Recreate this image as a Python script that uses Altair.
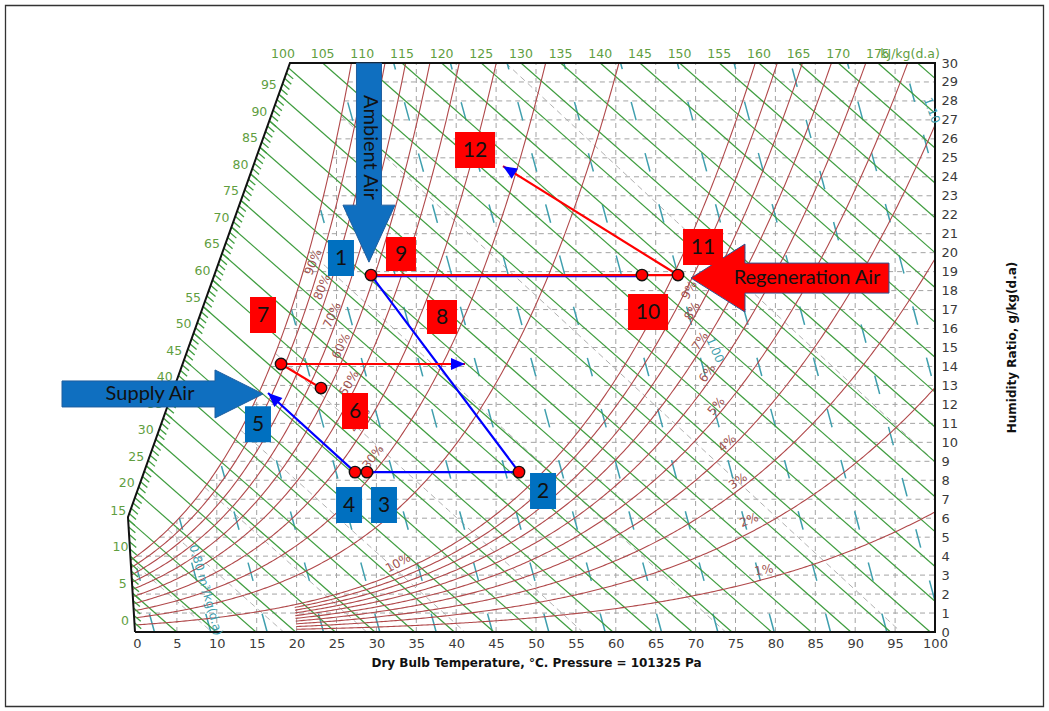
import math
import numpy as np
import pandas as pd
import altair as alt

alt.data_transformers.disable_max_rows()

# ---------------- plot frame ----------------
PLOT_W, PLOT_H = 798, 569
PX_PER_X = PLOT_W / 100.0
PX_PER_W = PLOT_H / 30.0

# ---------------- psychrometric constants ----------------
P_ATM = 101.325   # kPa
CP_DA = 1.006     # kJ/(kg K) dry air
K_SKEW = 2.72     # chart abscissa = (h - K_SKEW * w) / CP_DA

# enthalpy-scale boundary line (abscissa, g/kg)
boundary_x = [-0.25, -1.13, 19.17]
boundary_w = [0.0, 6.06, 30.0]

rh_main = [0.1, 0.2, 0.3, 0.4, 0.5, 0.6, 0.7, 0.8, 0.9, 1.0]
rh_low = [0.01, 0.02, 0.03, 0.04, 0.05, 0.06, 0.07, 0.08, 0.09]
enthalpy_values = list(range(5, 185, 5))
enthalpy_side_labels = list(range(0, 100, 5))
enthalpy_top_labels = list(range(100, 180, 5))
wet_bulb_values = [0, 5, 10, 15, 20, 25, 30, 35]
volume_values = [0.78, 0.80, 0.82, 0.84, 0.86, 0.88, 0.90, 0.92, 0.94,
                 0.96, 0.98, 1.00, 1.02, 1.04, 1.06, 1.08, 1.10]
grid_x = list(range(5, 100, 5))
grid_w = list(range(1, 30))

# relative-humidity curve labels
rh_label_text = ["90%", "80%", "70%", "60%", "50%", "40%", "30%", "20%", "10%",
                 "9%", "8%", "7%", "6%", "5%", "4%", "3%", "2%", "1%"]
rh_label_x = [22.06, 23.18, 24.44, 25.56, 26.57, 27.94, 29.57, 31.08, 32.71,
              69.17, 69.55, 70.55, 71.43, 72.56, 73.93, 75.31, 76.69, 78.57]
rh_label_w = [19.50, 18.19, 16.71, 15.08, 13.13, 11.18, 9.23, 6.69, 3.64,
              18.03, 16.92, 15.34, 13.65, 11.91, 9.96, 7.96, 5.90, 3.27]
rh_label_angle = [292, 292, 294, 296, 300, 304, 308, 315, 332,
                  298, 300, 304, 306, 310, 318, 326, 338, 350]

# specific-volume labels
vol_label_text = ["0.80 m³/kg(d.a)", "1.00", "1.10"]
vol_label_x = [8.65, 72.43, 99.6]
vol_label_w = [2.21, 14.87, 27.5]
vol_label_angle = [74, 66, 70]

# ---------------- process states ----------------
state_id = ["1", "2", "3", "4", "6", "7", "10", "11"]
state_x = [29.32, 47.87, 28.82, 27.32, 23.06, 18.05, 63.28, 67.79]
state_w = [18.82, 8.43, 8.43, 8.43, 12.86, 14.13, 18.82, 18.82]
tip_id = ["5", "8", "12"]
tip_x = [16.42, 41.10, 45.86]
tip_w = [12.60, 14.13, 24.56]

blue_paths = [["1", "2", "3", "4", "5"]]
blue_under = [["1", "10"]]
red_paths = [["1", "11"], ["11", "12"], ["7", "8"], ["7", "6"]]
arrow_heads = [("4", "5"), ("7", "8"), ("11", "12")]

# numbered tags
box_id = ["1", "2", "3", "4", "5", "9", "7", "8", "6", "12", "11", "10"]
box_x = [25.56, 50.88, 30.95, 26.57, 15.16, 33.08, 15.79, 38.22, 27.32, 42.36, 70.93, 64.04]
box_w = [19.72, 7.43, 6.69, 6.69, 10.96, 19.93, 16.71, 16.61, 11.65, 25.41, 20.30, 16.87]
box_fill = ["#0070C0"] * 5 + ["#FF0000"] * 7

# big air-stream arrows
air_text = ["Ambient Air", "Supply Air", "Regeneration Air"]
air_tip_x = [29.07, 15.79, 69.42]
air_tip_w = [19.50, 12.55, 18.66]
air_fill = ["#0F6FC0", "#0F6FC0", "#FF0000"]
air_stroke = ["#1F5E9E", "#1F5E9E", "#2F528F"]
air_shape = [
    "M0,0 L-26,-57 L-12.5,-57 L-12.5,-199 L12.5,-199 L12.5,-57 L26,-57 Z",
    "M0,0 L-48,-24 L-48,-13 L-201,-13 L-201,13 L-48,13 L-48,24 Z",
    "M0,0 L54,-34 L54,-15 L198,-15 L198,15 L54,15 L54,34 Z",
]
air_label_x = [29.20, 1.63, 83.96]
air_label_w = [25.55, 12.55, 18.66]
air_label_angle = [90, 0, 0]

# ---------------- colours ----------------
C_GRID = "#a3a3a3"
C_WB = "#b0b0b0"
C_VOL = "#3f9fae"
C_ENTH = "#3f9d3f"
C_ENTH_TXT = "#5f9e3f"
C_RH = "#b0484a"
C_RH_TXT = "#a0524f"

# ---------------- psychrometric relations ----------------
def p_sat(t):
    t = np.asarray(t, dtype=float)
    return 0.61121 * np.exp((18.678 - t / 234.5) * (t / (257.14 + t)))


def w_at(t, rh):
    pv = rh * p_sat(t)
    return 622.0 * pv / (P_ATM - pv)


def abscissa(t, w):
    return t - w * (K_SKEW - 2.501 - 0.00186 * t) / CP_DA


def h_line_x(h, w):
    return (h - K_SKEW * w) / CP_DA


def truncate(xs, ws):
    ox, ow = [xs[0]], [ws[0]]
    for i in range(1, len(xs)):
        x0, w0, x1, w1 = xs[i - 1], ws[i - 1], xs[i], ws[i]
        if w1 > 30 or x1 > 100:
            f = 1.0
            if w1 > 30:
                f = min(f, (30 - w0) / (w1 - w0))
            if x1 > 100:
                f = min(f, (100 - x0) / (x1 - x0))
            ox.append(x0 + f * (x1 - x0))
            ow.append(w0 + f * (w1 - w0))
            break
        ox.append(x1)
        ow.append(w1)
    return ox, ow


def inside(x, w):
    return 0.0 <= x <= 100.0 and 0.0 <= w <= 30.0


def edge_point(a, b):
    # a inside, b outside: bisect to the plot edge
    lo, hi = 0.0, 1.0
    for _ in range(30):
        m = 0.5 * (lo + hi)
        if inside(a[0] + m * (b[0] - a[0]), a[1] + m * (b[1] - a[1])):
            lo = m
        else:
            hi = m
    return (a[0] + lo * (b[0] - a[0]), a[1] + lo * (b[1] - a[1]))


def clip_rows(xs, ws, tag):
    pts = list(zip(xs, ws))
    runs, cur = [], []
    for i, p in enumerate(pts):
        if inside(*p):
            if not cur and i > 0:
                cur.append(edge_point(p, pts[i - 1]))
            cur.append(p)
        elif cur:
            cur.append(edge_point(pts[i - 1], p))
            runs.append(cur)
            cur = []
    if cur:
        runs.append(cur)
    out = []
    for r, run in enumerate(runs):
        out += [(float(a), float(b), f"{tag}_{r}", k) for k, (a, b) in enumerate(run)]
    return out


# saturation line in chart coordinates
t_sat = np.arange(-10, 40, 0.05)
w_sat = w_at(t_sat, 1.0)
x_sat = abscissa(t_sat, w_sat)

# boundary intersection of a constant-enthalpy line
wg = np.linspace(0, 30, 30001)
xb = np.interp(wg, boundary_w, boundary_x)


def boundary_hit(h):
    f = h_line_x(h, wg) - xb
    if f[-1] > 0:
        return None
    i = int(np.argmax(f <= 0))
    return float(xb[i]), float(wg[i])


def lines_frame(rows):
    return pd.DataFrame(rows, columns=["X", "W", "g", "o"])


# grid
rows = []
for gx in grid_x:
    top = min(30.0, float(np.interp(gx, x_sat, w_sat)))
    rows += [(gx, 0.0, f"v{gx}", 0), (gx, top, f"v{gx}", 1)]
for gw in grid_w:
    left = max(0.0, float(np.interp(gw, w_sat, x_sat)))
    rows += [(left, gw, f"h{gw}", 0), (100.0, gw, f"h{gw}", 1)]
grid_df = lines_frame(rows)

# wet-bulb lines
rows = []
for twb in wet_bulb_values:
    ws = float(w_at(twb, 1.0)) / 1000.0
    t_end = twb + (2501 - 2.326 * twb) * ws / 1.006
    tt = np.linspace(twb, t_end, 80)
    ww = ((2501 - 2.326 * twb) * ws - 1.006 * (tt - twb)) / (2501 + 1.86 * tt - 4.186 * twb) * 1000
    xx = abscissa(tt, ww)
    rows += clip_rows(list(xx), list(ww), f"wb{twb}")
wb_df = lines_frame(rows)

# specific-volume lines
rows = []
for v in volume_values:
    ww = np.arange(0, 30.01, 0.25)
    tt = v * P_ATM / (0.287042 * (1 + 1.6078 * ww / 1000)) - 273.15
    keep = ww <= w_at(tt, 1.0)
    xx = abscissa(tt[keep], ww[keep])
    if len(xx):
        rows += clip_rows(list(xx), list(ww[keep]), f"v{v}")
vol_df = lines_frame(rows)

# enthalpy lines
rows = []
for h in enthalpy_values:
    hit = boundary_hit(h)
    start = hit if hit is not None else (h_line_x(h, 30.0), 30.0)
    if h / CP_DA <= 100:
        end = (h / CP_DA, 0.0)
    else:
        end = (100.0, (h - 100 * CP_DA) / K_SKEW)
    rows += [(start[0], start[1], f"e{h}", 0), (end[0], end[1], f"e{h}", 1)]
enth_df = lines_frame(rows)

# boundary hatch marks, one per kJ/kg
rows = []
for h in range(1, 100):
    hit = boundary_hit(h)
    if hit is None:
        continue
    rows += [(hit[0], hit[1], f"k{h}", 0), (hit[0] + 0.85, hit[1] - 0.31, f"k{h}", 1)]
hatch_df = lines_frame(rows)

# relative-humidity curves
rows = []
for rh, t0 in [(r, 0.0) for r in rh_main] + [(r, 20.0) for r in rh_low]:
    tt = np.arange(t0, 101, 0.25)
    tt = tt[rh * p_sat(tt) < 0.9 * P_ATM]
    ww = w_at(tt, rh)
    xx = abscissa(tt, ww)
    xs, ws = truncate(list(xx), list(ww))
    rows += [(float(a), float(b), f"r{rh}", k) for k, (a, b) in enumerate(zip(xs, ws))]
rh_df = lines_frame(rows)

# chart outline
frame_df = lines_frame([
    (boundary_x[0], 0.0, "f", 0), (100.0, 0.0, "f", 1), (100.0, 30.0, "f", 2),
    (boundary_x[2], 30.0, "f", 3), (boundary_x[1], boundary_w[1], "f", 4),
    (boundary_x[0], boundary_w[0], "f", 5),
])

# enthalpy labels
side = [boundary_hit(h) for h in enthalpy_side_labels]
side_df = pd.DataFrame({"X": [s[0] for s in side], "W": [s[1] for s in side],
                        "t": [str(h) for h in enthalpy_side_labels]})
top_df = pd.DataFrame({"X": [h_line_x(h, 30.0) for h in enthalpy_top_labels],
                       "W": [30.0] * len(enthalpy_top_labels),
                       "t": [str(h) for h in enthalpy_top_labels]})
unit_df = pd.DataFrame({"X": [96.87], "W": [30.0], "t": ["kJ/kg(d.a)"]})

rhl_df = pd.DataFrame({"X": rh_label_x, "W": rh_label_w, "t": rh_label_text, "a": rh_label_angle})
voll_df = pd.DataFrame({"X": vol_label_x, "W": vol_label_w, "t": vol_label_text, "a": vol_label_angle})

# process lines
pos = {k: (x, w) for k, x, w in zip(state_id, state_x, state_w)}
pos.update({k: (x, w) for k, x, w in zip(tip_id, tip_x, tip_w)})


def path_rows(paths, colour, tag):
    out = []
    for n, p in enumerate(paths):
        for k, sid in enumerate(p):
            out.append((pos[sid][0], pos[sid][1], f"{tag}{n}", k, colour))
    return out


proc_df = pd.DataFrame(path_rows(blue_paths, "#0000FF", "b") + path_rows(red_paths, "#FF0000", "r"),
                       columns=["X", "W", "g", "o", "c"])
under_df = pd.DataFrame(path_rows(blue_under, "#0000FF", "u"), columns=["X", "W", "g", "o", "c"])

dots_df = pd.DataFrame({"X": state_x, "W": state_w})


def heading(a, b):
    dx = (pos[b][0] - pos[a][0]) * PX_PER_X
    dy = -(pos[b][1] - pos[a][1]) * PX_PER_W
    return math.degrees(math.atan2(dx, -dy)) % 360


heads_df = pd.DataFrame({"X": [pos[b][0] for a, b in arrow_heads],
                         "W": [pos[b][1] for a, b in arrow_heads],
                         "a": [heading(a, b) for a, b in arrow_heads]})

air_df = pd.DataFrame({"X": air_tip_x, "W": air_tip_w, "shape": air_shape,
                       "fill": air_fill, "stroke": air_stroke})
airl_df = pd.DataFrame({"X": air_label_x, "W": air_label_w, "t": air_text, "a": air_label_angle})


def box_path(label):
    if len(label) == 2:
        return "M-20,-18 H20 V18 H-20 Z"
    if label in ("8", "9"):
        return "M-15,-17 H15 V17 H-15 Z"
    return "M-13,-18 H13 V18 H-13 Z"


box_df = pd.DataFrame({"X": box_x, "W": box_w, "t": box_id, "fill": box_fill,
                       "shape": [box_path(b) for b in box_id]})

# ---------------- scales / axes ----------------
XS = alt.Scale(domain=[0, 100], nice=False, zero=False)
YS = alt.Scale(domain=[0, 30], nice=False, zero=False)
X_AXIS = alt.Axis(values=list(range(0, 101, 5)), title="Dry Bulb Temperature, °C. Pressure = 101325 Pa",
                  labelFlush=False, ticks=False, domain=False, grid=False, labelOverlap=False,
                  labelFont="DejaVu Sans", labelFontSize=13, labelColor="#3a3a3a", labelPadding=5,
                  titleFont="DejaVu Sans", titleFontSize=12, titleFontWeight="bold",
                  titleColor="#111111", titlePadding=7)
Y_AXIS = alt.Axis(orient="right", values=list(range(0, 31)), title="Humidity Ratio, g/kg(d.a)",
                  labelFlush=False, ticks=False, domain=False, grid=False, labelOverlap=False,
                  labelFont="DejaVu Sans", labelFontSize=13, labelColor="#3a3a3a", labelPadding=6,
                  labelAlign="left", titleFont="DejaVu Sans", titleFontSize=12,
                  titleFontWeight="bold", titleColor="#111111", titleAngle=270,
                  titleAlign="center", titleBaseline="middle", titleX=76, titleY=284)


def xy():
    return dict(x=alt.X("X:Q", scale=XS, axis=X_AXIS), y=alt.Y("W:Q", scale=YS, axis=Y_AXIS))


def line_layer(df, **mark):
    return alt.Chart(df).mark_line(**mark).encode(**xy(), detail="g:N", order="o:Q")


border = alt.Chart(pd.DataFrame({"z": [0]})).mark_rect(
    fillOpacity=0, stroke="#333333", strokeWidth=1.3
).encode(x=alt.value(-131.5), x2=alt.value(906.5), y=alt.value(-57.5), y2=alt.value(643.5))

grid = line_layer(grid_df, color=C_GRID, strokeWidth=1, strokeDash=[5, 4])
wet = line_layer(wb_df, color=C_WB, strokeWidth=1, strokeDash=[6, 4])
vol = line_layer(vol_df, color=C_VOL, strokeWidth=1.5, strokeDash=[19, 34])
enth = line_layer(enth_df, color=C_ENTH, strokeWidth=1.2)
rh = line_layer(rh_df, color=C_RH, strokeWidth=1.1)
hatch = line_layer(hatch_df, color=C_ENTH, strokeWidth=1.3)
frame = line_layer(frame_df, color="#111111", strokeWidth=2)

rh_labels = alt.Chart(rhl_df).mark_text(font="DejaVu Sans", fontSize=12, color=C_RH_TXT).encode(
    **xy(), text="t:N", angle=alt.Angle("a:Q", scale=None))
vol_labels = alt.Chart(voll_df).mark_text(font="DejaVu Sans", fontSize=12, color=C_VOL).encode(
    **xy(), text="t:N", angle=alt.Angle("a:Q", scale=None))
side_labels = alt.Chart(side_df).mark_text(font="DejaVu Sans", fontSize=12.5, color=C_ENTH_TXT,
                                           dx=-10, dy=-9).encode(**xy(), text="t:N")
top_labels = alt.Chart(top_df).mark_text(font="DejaVu Sans", fontSize=12.5, color=C_ENTH_TXT,
                                         dy=-9).encode(**xy(), text="t:N")
unit_label = alt.Chart(unit_df).mark_text(font="DejaVu Sans", fontSize=12.5, color=C_ENTH_TXT,
                                          dy=-9).encode(**xy(), text="t:N")

under = alt.Chart(under_df).mark_line(color="#0000FF", strokeWidth=2, yOffset=1.2).encode(
    **xy(), detail="g:N", order="o:Q")
proc = alt.Chart(proc_df).mark_line(strokeWidth=2.2).encode(
    **xy(), detail="g:N", order="o:Q", color=alt.Color("c:N", scale=None))
dots = alt.Chart(dots_df).mark_point(shape="circle", filled=True, size=130, fill="#FF0000",
                                     stroke="#111111", strokeWidth=1.4, opacity=1).encode(**xy())
heads = alt.Chart(heads_df).mark_point(shape="M0,0 L-6,14 L6,14 Z", filled=True, size=4,
                                       fill="#0000FF", strokeWidth=0, opacity=1).encode(
    **xy(), angle=alt.Angle("a:Q", scale=None))
air = alt.Chart(air_df).mark_point(filled=True, size=4, opacity=1, strokeWidth=1).encode(
    **xy(), shape=alt.Shape("shape:N", scale=None), fill=alt.Fill("fill:N", scale=None),
    stroke=alt.Stroke("stroke:N", scale=None))
air_labels = alt.Chart(airl_df).mark_text(font="Lato", fontSize=20, color="#111111").encode(
    **xy(), text="t:N", angle=alt.Angle("a:Q", scale=None))
boxes = alt.Chart(box_df).mark_point(filled=True, size=4, opacity=1, strokeWidth=0).encode(
    **xy(), shape=alt.Shape("shape:N", scale=None), fill=alt.Fill("fill:N", scale=None))
box_labels = alt.Chart(box_df).mark_text(font="Lato", fontSize=21, color="#111111", dy=1).encode(
    **xy(), text="t:N")

chart = alt.layer(
    border, grid, wet, vol, enth, rh, hatch, frame,
    rh_labels, vol_labels, side_labels, top_labels, unit_label,
    under, proc, dots, heads, air, air_labels, boxes, box_labels,
).properties(
    width=PLOT_W, height=PLOT_H,
    padding={"left": 137, "top": 63, "right": 114, "bottom": 79},
    autosize=alt.AutoSizeParams(type="none"),
).configure(
    background="white"
).configure_view(
    stroke=None
)

chart.save("out.html", embed_options={"renderer": "svg", "actions": False})
